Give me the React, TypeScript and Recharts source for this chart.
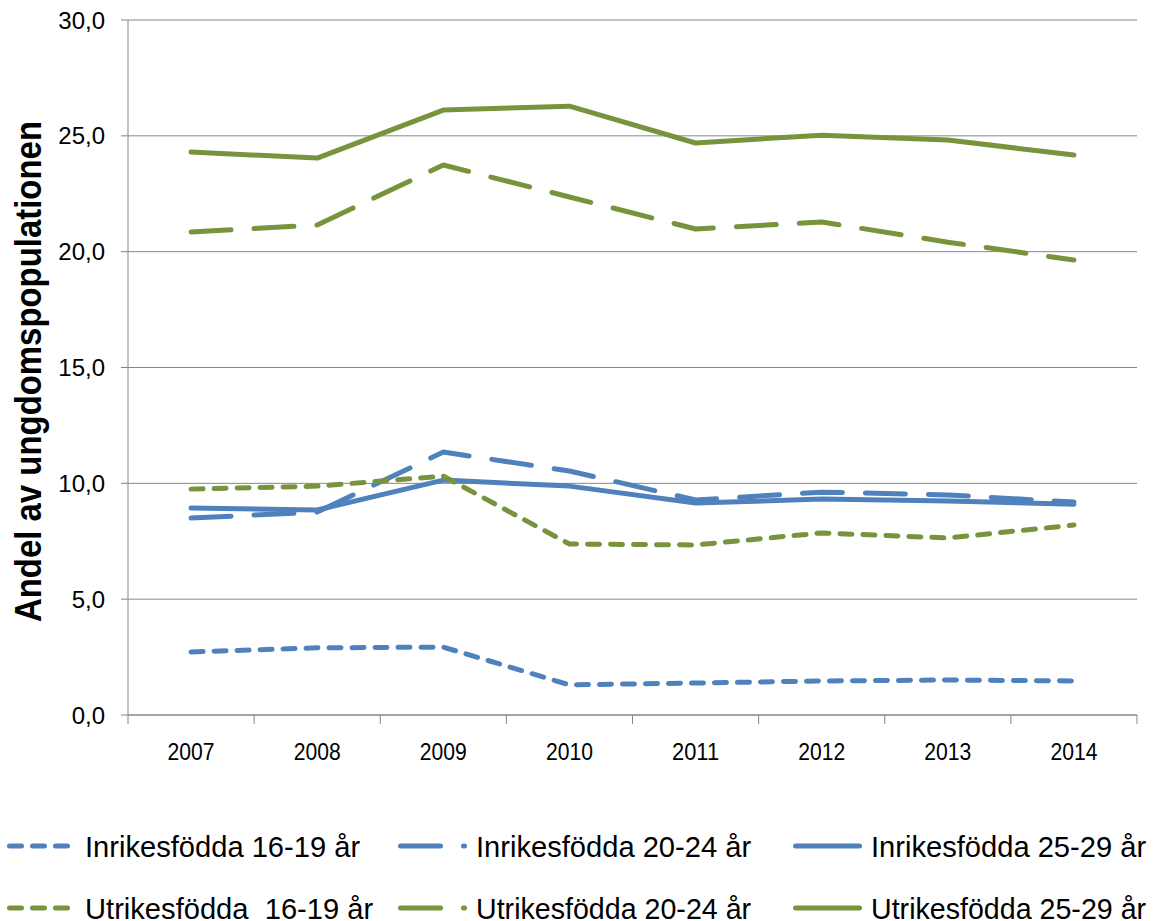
import {CartesianGrid, Line, LineChart, XAxis, YAxis} from "recharts";

const years = ["2007", "2008", "2009", "2010", "2011", "2012", "2013", "2014"];

const inrikes1619 = [2.72, 2.9, 2.93, 1.3, 1.38, 1.47, 1.51, 1.47];
const inrikes2024 = [8.5, 8.76, 11.35, 10.53, 9.28, 9.62, 9.5, 9.19];
const inrikes2529 = [8.93, 8.85, 10.14, 9.88, 9.15, 9.32, 9.24, 9.1];
const utrikes1619 = [9.75, 9.88, 10.31, 7.38, 7.34, 7.86, 7.64, 8.2];
const utrikes2024 = [20.85, 21.15, 23.74, 22.36, 20.98, 21.28, 20.41, 19.64];
const utrikes2529 = [24.3, 24.04, 26.11, 26.28, 24.69, 25.03, 24.82, 24.17];

const yTicks = [0, 5, 10, 15, 20, 25, 30];

const BLUE = "#4F81BD";
const GREEN = "#77933C";
const GRID = "#868686";
const FONT = "'Liberation Sans', Arial, sans-serif";

const SHORT = "12 11";
const LONG = "40 23";

const series = [
    {key: "in1619", name: "Inrikesfödda 16-19 år", values: inrikes1619, color: BLUE, dash: SHORT},
    {key: "in2024", name: "Inrikesfödda 20-24 år", values: inrikes2024, color: BLUE, dash: LONG},
    {key: "in2529", name: "Inrikesfödda 25-29 år", values: inrikes2529, color: BLUE, dash: undefined},
    {key: "ut1619", name: "Utrikesfödda  16-19 år", values: utrikes1619, color: GREEN, dash: SHORT},
    {key: "ut2024", name: "Utrikesfödda 20-24 år", values: utrikes2024, color: GREEN, dash: LONG},
    {key: "ut2529", name: "Utrikesfödda 25-29 år", values: utrikes2529, color: GREEN, dash: undefined},
];

const data = years.map((year, i) => {
    const row: any = {year};
    series.forEach(s => {
        row[s.key] = s.values[i];
    });
    return row;
});

// plot area: 128..1137 horizontally, 8 categories
const PLOT_LEFT = 128;
const PLOT_RIGHT = 1137;
const BAND = (PLOT_RIGHT - PLOT_LEFT) / years.length;

const legendCols = [7, 398, 793];
const legendRows = [846, 908];

function XTick(props: any) {
    const {x, y, payload, index} = props;
    return (
        <g>
            <line x1={x - BAND / 2} x2={x - BAND / 2} y1={y} y2={y + 9} stroke={GRID}/>
            {index === years.length - 1 && (
                <line x1={x + BAND / 2} x2={x + BAND / 2} y1={y} y2={y + 9} stroke={GRID}/>
            )}
            <text
                x={x}
                y={y + 45}
                textAnchor="middle"
                fill="#000"
                fontSize={24}
                fontFamily={FONT}
                textLength={47}
                lengthAdjust="spacingAndGlyphs"
            >
                {payload.value}
            </text>
        </g>
    );
}

function YLabel(props: any) {
    const {viewBox} = props;
    const cx = viewBox.x + 28;
    const cy = viewBox.y + viewBox.height / 2 + 4;
    return (
        <text
            x={cx}
            y={cy}
            transform={`rotate(-90, ${cx}, ${cy})`}
            textAnchor="middle"
            dominantBaseline="central"
            fontWeight="bold"
            fontSize={37}
            fontFamily={FONT}
            fill="#000"
            textLength={501}
            lengthAdjust="spacingAndGlyphs"
        >
            Andel av ungdomspopulationen
        </text>
    );
}

export default function App() {
    return (
        <div style={{position: "relative", width: 1162, height: 921}}>
            <style>{"body{margin:0}"}</style>
            <LineChart
                width={1162}
                height={921}
                data={data}
                margin={{top: 20, right: 1162 - PLOT_RIGHT, left: 0, bottom: 146}}
                style={{fontFamily: FONT}}
            >
                <CartesianGrid vertical={false} stroke={GRID} strokeWidth={1}/>
                <XAxis
                    dataKey="year"
                    height={60}
                    padding={{left: BAND / 2, right: BAND / 2}}
                    axisLine={{stroke: GRID}}
                    tickLine={false}
                    tickSize={0}
                    tickMargin={0}
                    tick={<XTick/>}
                    interval={0}
                />
                <YAxis
                    width={PLOT_LEFT}
                    domain={[0, 30]}
                    ticks={yTicks}
                    interval={0}
                    axisLine={{stroke: GRID}}
                    tickLine={{stroke: GRID}}
                    tickSize={7}
                    tickMargin={16}
                    tick={{fill: "#000", fontSize: 24, fontFamily: FONT}}
                    tickFormatter={(v: number) => v.toFixed(1).replace(".", ",")}
                    label={<YLabel/>}
                />
                {series.map(s => (
                    <Line
                        key={s.key}
                        dataKey={s.key}
                        name={s.name}
                        type="linear"
                        stroke={s.color}
                        strokeWidth={5}
                        strokeDasharray={s.dash}
                        strokeLinecap="round"
                        strokeLinejoin="round"
                        dot={false}
                        activeDot={false}
                        isAnimationActive={false}
                    />
                ))}
            </LineChart>
            <svg
                width={1162}
                height={921}
                style={{position: "absolute", left: 0, top: 0, pointerEvents: "none"}}
            >
                {series.map((s, i) => {
                    const x = legendCols[i % 3];
                    const y = legendRows[Math.floor(i / 3)];
                    return (
                        <g key={s.key}>
                            <line
                                x1={x + 2.5}
                                x2={x + 66.5}
                                y1={y}
                                y2={y}
                                stroke={s.color}
                                strokeWidth={5}
                                strokeDasharray={s.dash}
                                strokeLinecap="round"
                            />
                            <text
                                x={x + 78}
                                y={y}
                                dominantBaseline="central"
                                fontSize={30}
                                fontFamily={FONT}
                                fill="#000"
                                textLength={s.name.length * 13.1}
                                lengthAdjust="spacingAndGlyphs"
                                style={{whiteSpace: "pre"}}
                            >
                                {s.name}
                            </text>
                        </g>
                    );
                })}
            </svg>
        </div>
    );
}
